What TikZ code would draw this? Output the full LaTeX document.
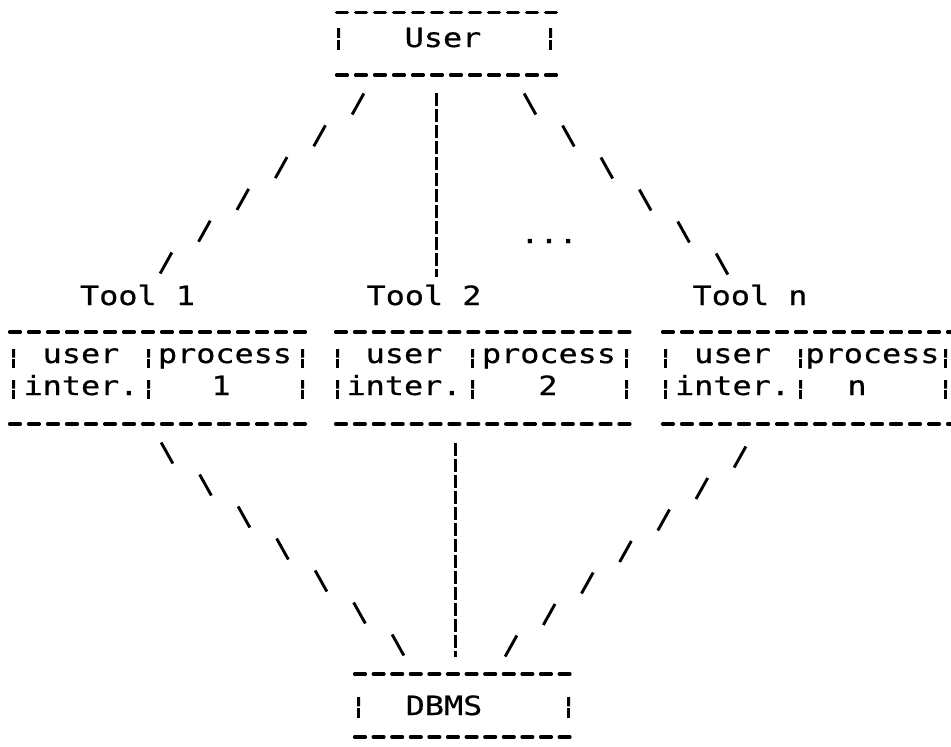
\documentclass[tikz,border=0pt]{standalone}
\usepackage{fontspec}
\newfontfamily\typefont[FakeStretch=1.2,FakeBold=0.6]{DejaVu Sans Mono}
\usetikzlibrary{calc}

\tikzset{
  txt/.style={font=\typefont\fontsize{26.5}{30}\selectfont, inner sep=0pt, anchor=base},
  rule/.style={line width=3.3pt, line cap=round, dash pattern=on 10.8pt off #1pt},
  rule/.default=8.2,
  stroke/.style={line width=2.9pt},
  barstroke/.style={line width=3pt},
  vline/.style={line width=3pt, dash pattern=on 13pt off 3pt},
}
% broken bar glyph: x, top, bottom
\newcommand\brokenbar[3]{%
  \draw[barstroke] (#1,#2) -- ($(#1,#2)!0.45!(#1,#3)$);
  \draw[barstroke] ($(#1,#2)!0.53!(#1,#3)$) -- (#1,#3);}

\begin{document}
\begin{tikzpicture}[x=1pt,y=-1pt]
\useasboundingbox (0,0) rectangle (951,747);

% ---- User box ----
\node[txt] (user) at (443,47) {User};
\draw[rule=8.2] (336.6,12.7) -- (558,12.7);
\draw[rule=8.2] (336.6,75) -- (558,75);
\brokenbar{338.5}{28}{50}
\brokenbar{550.5}{28}{50}

% ---- tool labels ----
\node[txt] (t1) at (137.5,305) {Tool 1};
\node[txt] (t2) at (424,305) {Tool 2};
\node[txt] (tn) at (750,305) {Tool n};
\node[txt] (dots) at (549,243) {...};

% ---- Tool 1 box ----
\draw[rule=8.2] (9.6,332) -- (307,332);
\draw[rule=8.2] (9.6,424) -- (307,424);
\foreach \x in {13.5,148.5,302.5} {\brokenbar{\x}{349}{368}\brokenbar{\x}{380}{399}}
\node[txt] (u1) at (81,363) {user};
\node[txt] (p1) at (225,363) {process};
\node[txt] (i1) at (81,395) {inter.};
\node[txt] (n1) at (221,395) {1};

% ---- Tool 2 box ----
\draw[rule=8.1] (335.6,332) -- (632,332);
\draw[rule=8.1] (335.6,424) -- (632,424);
\foreach \x in {337.5,472.5,626.5} {\brokenbar{\x}{349}{368}\brokenbar{\x}{380}{399}}
\node[txt] (u2) at (404,363) {user};
\node[txt] (p2) at (549,363) {process};
\node[txt] (i2) at (404,395) {inter.};
\node[txt] (n2) at (548,395) {2};

% ---- Tool n box ----
\draw[rule=8.2] (662.6,332) -- (960,332);
\draw[rule=8.2] (662.6,424) -- (960,424);
\foreach \x in {665.5,800.5,945.5} {\brokenbar{\x}{349}{368}\brokenbar{\x}{380}{399}}
\node[txt] (u3) at (732.5,363) {user};
\node[txt] (p3) at (872.5,363) {process};
\node[txt] (i3) at (732.5,395) {inter.};
\node[txt] (n3) at (857,395) {n};

% ---- DBMS box ----
\node[txt] (dbms) at (444,715) {DBMS};
\draw[rule=7.8] (354.6,674) -- (572,674);
\draw[rule=7.8] (354.6,737) -- (572,737);
\brokenbar{358.5}{697}{718}
\brokenbar{568.5}{697}{718}

% ---- connector end points ----
\coordinate (ua) at (358,104);   \coordinate (ub) at (166,263);
\coordinate (va) at (436.5,93);  \coordinate (vb) at (436.5,277);
\coordinate (wa) at (530,104);   \coordinate (wb) at (722,264);
\coordinate (la) at (167,453);   \coordinate (lb) at (398,645);
\coordinate (ma) at (455.5,443); \coordinate (mb) at (455.5,657);
\coordinate (ra) at (740,457);   \coordinate (rb) at (511,646);

% User -- tools
\foreach \k in {0,...,5}
  \draw[stroke] ($(ua)!\k/5!(ub)$) ++(-5.85,10.5) -- ++(11.7,-21);
\draw[vline] (va) -- (vb);
\foreach \k in {0,...,5}
  \draw[stroke] ($(wa)!\k/5!(wb)$) ++(-5.85,-10.5) -- ++(11.7,21);

% tools -- DBMS
\foreach \k in {0,...,6}
  \draw[stroke] ($(la)!\k/6!(lb)$) ++(-5.85,-10.5) -- ++(11.7,21);
\draw[vline] (ma) -- (mb);
\foreach \k in {0,...,6}
  \draw[stroke] ($(ra)!\k/6!(rb)$) ++(-5.85,10.5) -- ++(11.7,-21);
\end{tikzpicture}
\end{document}
